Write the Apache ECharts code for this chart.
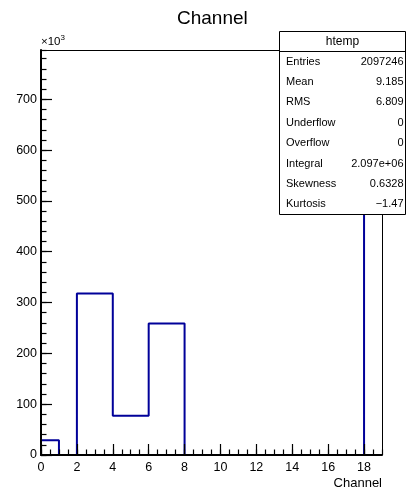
<!DOCTYPE html>
<html>
<head>
<meta charset="utf-8">
<script src="https://cdn.jsdelivr.net/npm/echarts@6/dist/echarts.min.js"></script>
<style>
html,body{margin:0;padding:0;background:#fff;}
#c{width:408px;height:493px;}
</style>
</head>
<body>
<div id="c"></div>
<script>
// ---- data ----
const binLowEdges = [0,1,2,3,4,5,6,7,8,9,10,11,12,13,14,15,16,17,18];
const binWidth = 1;
const counts = [29000,0,318000,318000,77000,77000,259000,259000,0,0,0,0,0,0,0,0,0,0,760000];
const xRange = [0, 19];
const yMax = 797000;
const statsLabels = ['Entries','Mean','RMS','Underflow','Overflow','Integral','Skewness','Kurtosis'];
const statsValues = ['2097246','9.185','6.809','0','0','2.097e+06','0.6328','\u22121.47'];
const histName = 'htemp';
const titleText = 'Channel';
const xTitle = 'Channel';

// ---- build step outline ----
const pts = [[binLowEdges[0], 0]];
for (let i = 0; i < counts.length; i++) pts.push([binLowEdges[i], counts[i]]);
pts.push([binLowEdges[binLowEdges.length-1] + binWidth, counts[counts.length-1]]);

const FONT = "'Liberation Sans', Arial, Helvetica, sans-serif";
const chart = echarts.init(document.getElementById('c'), null, {renderer:'canvas'});

const gL = 41, gR = 26, gT = 50, gB = 38, W = 408, H = 493;

// frame (top & right) + stats box
const bx = 279.5, by = 31.5, bw = 126, bh = 183, hh = 20;
const rowH = (bh - hh) / statsLabels.length;
const els = [
  {type:'line', shape:{x1:gL, y1:gT+0.5, x2:W-gR+0.5, y2:gT+0.5}, style:{stroke:'#000',lineWidth:1}, z:50},
  {type:'line', shape:{x1:W-gR+0.5, y1:gT, x2:W-gR+0.5, y2:H-gB}, style:{stroke:'#000',lineWidth:1}, z:50},
  {type:'rect', shape:{x:bx,y:by,width:bw,height:bh}, style:{fill:'#fff',stroke:'#000',lineWidth:1}, z:100},
  {type:'line', shape:{x1:bx,y1:by+hh,x2:bx+bw,y2:by+hh}, style:{stroke:'#000',lineWidth:1}, z:101},
  {type:'text', x:bx+bw/2, y:by+hh/2+0.5, style:{text:histName, font:'12px '+FONT, fill:'#000', align:'center', verticalAlign:'middle'}, z:101}
];
statsLabels.forEach((l,i)=>{
  const cy = by + hh + rowH*(i+0.5);
  els.push({type:'text', x:bx+6.5, y:cy, style:{text:l, font:'11px '+FONT, fill:'#000', align:'left', verticalAlign:'middle'}, z:101});
  els.push({type:'text', x:bx+bw-2, y:cy, style:{text:statsValues[i], font:'11px '+FONT, fill:'#000', align:'right', verticalAlign:'middle'}, z:101});
});

chart.setOption({
  animation:false,
  backgroundColor:'#fff',
  title:{text:titleText, left:172, top:4, textStyle:{fontFamily:FONT,fontSize:19,fontWeight:'normal',color:'#000'}},
  grid:{left:gL, right:gR, top:gT, bottom:gB, show:false},
  xAxis:[
    {type:'value', min:xRange[0], max:xRange[1], interval:2, z:5,
     name:xTitle, nameLocation:'end', nameGap:0,
     nameTextStyle:{fontFamily:FONT,fontSize:13,color:'#000',align:'right',verticalAlign:'top',padding:[22,0,0,0]},
     axisLine:{show:true,lineStyle:{color:'#000',width:2}},
     axisTick:{show:true,inside:true,length:11,lineStyle:{color:'#000',width:1.2}},
     axisLabel:{fontFamily:FONT,fontSize:12.5,color:'#000',margin:6,showMaxLabel:false,
       formatter:v=> (v%2===0? String(v):'')},
     splitLine:{show:false}},
    {type:'value', min:xRange[0], max:xRange[1], interval:0.5, z:5, position:'bottom',
     axisLine:{show:false}, axisLabel:{show:false}, splitLine:{show:false},
     axisTick:{show:true,inside:true,length:5.5,lineStyle:{color:'#000',width:1.2}}}
  ],
  yAxis:[
    {type:'value', min:0, max:yMax, interval:100000, z:5,
     name:'\u00d710{s|3}', nameLocation:'end', nameGap:1,
     nameTextStyle:{fontFamily:FONT,fontSize:11.5,color:'#000',align:'left',verticalAlign:'bottom',
       rich:{s:{fontFamily:FONT,fontSize:8,color:'#000',padding:[0,0,7,0]}}},
     axisLine:{show:true,lineStyle:{color:'#000',width:2}},
     axisTick:{show:true,inside:true,length:11,lineStyle:{color:'#000',width:1.2}},
     axisLabel:{fontFamily:FONT,fontSize:12.5,color:'#000',margin:4,showMaxLabel:false,
       formatter:v=> (v%100000===0? String(v/1000):'')},
     splitLine:{show:false}},
    {type:'value', min:0, max:yMax, interval:20000, z:5, position:'left',
     axisLine:{show:false}, axisLabel:{show:false}, splitLine:{show:false},
     axisTick:{show:true,inside:true,length:5.5,lineStyle:{color:'#000',width:1.2}}}
  ],
  series:[{
    type:'line', xAxisIndex:0, yAxisIndex:0, step:'end', data:pts,
    symbol:'none', z:2,
    lineStyle:{color:'#000099', width:2}
  }],
  graphic:els
});
</script>
</body>
</html>
